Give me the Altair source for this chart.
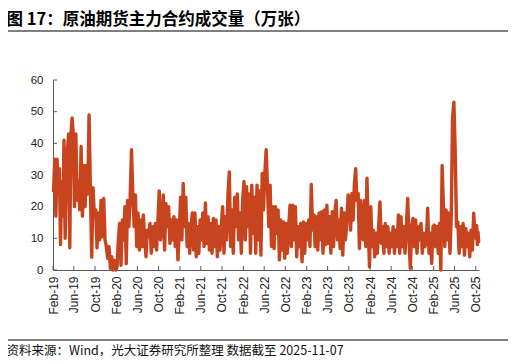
import altair as alt
import pandas as pd

# ---------------- data (万张) ----------------
segment_starts = [
    "2019-02-01", "2019-06-01", "2019-10-01", "2020-02-01", "2020-06-01",
    "2020-10-01", "2021-02-01", "2021-06-01", "2021-10-01", "2022-02-01",
    "2022-06-01", "2022-10-01", "2023-02-01", "2023-06-01", "2023-10-01",
    "2024-02-01", "2024-06-01", "2024-10-01", "2025-02-01", "2025-06-01",
    "2025-10-01",
]
segment_end = "2025-10-20"

s01 = [25, 35, 17, 35, 26, 32, 8, 28, 17, 41, 10, 29, 38, 43, 7, 43, 48, 43]
s02 = [20, 43, 22, 28, 19, 39, 17, 33, 20, 33, 24, 49, 26, 4, 26, 17]
s03 = [19, 7, 18, 9.5, 22, 10.5, 22.6, 9.5, 7.4, 3.7, 7.4, 0.5, 4.2, 0, 3, 0]
s04 = [1, 9.5, 14.7, 1.5, 15.8, 9.5, 20, 2, 22, 13.7, 23, 38, 24, 13.7, 23.7, 7.4]
s05 = [18, 6.3, 15.8, 7.4, 17.4, 9.5, 4.2, 12.6, 10.5, 14.7, 5.3, 13.7, 7.4, 14.7, 6.3, 15.8]
s06 = [25, 9.5, 13.7, 23.7, 6.3, 21, 13.7, 20, 8.4, 15.8, 9.5, 16.8, 7.4, 15.8, 3.2, 12.6]
s07 = [23, 9.5, 27.3, 13.7, 23, 7.4, 14.7, 5.3, 13.7, 18, 6.3, 18, 4.2, 13.7, 5.3, 15.8]
s08 = [9.5, 18, 7.4, 21.2, 8.4, 16.8, 6.3, 14.7, 5.3, 16.3, 7.4, 15.8, 4.2, 13.7, 6.3, 13.7]
s09 = [20, 5.3, 16.8, 9.5, 24, 31, 7.4, 19, 5.3, 23, 13.7, 24, 9.5, 18, 5.3, 22]
s10 = [28, 9.5, 26.3, 13.7, 24, 5.3, 26.8, 11.6, 23, 5.3, 26.8, 9.5, 25, 4.7, 30.5, 19]
s11 = [30.5, 38, 26.3, 13.7, 26.8, 7.4, 20, 6.8, 20, 11.6, 19, 3.2, 15.8, 6.3, 15.2, 3.7]
s12 = [14.7, 5.3, 13.7, 20.5, 7.4, 20.5, 9.5, 20, 4.2, 13.7, 7.4, 14.7, 2.6, 15.2, 5.3, 14.7]
s13 = [9.5, 15.8, 7.4, 27, 12.6, 17.4, 7.4, 16.8, 6.3, 18, 9.5, 18.4, 5.3, 19, 8, 20.5]
s14 = [8.4, 16.8, 5.3, 18.4, 7.4, 18, 22, 9.5, 15.8, 6.8, 19.5, 4.7, 18, 9.5, 14.7, 23.7]
s15 = [23, 12.6, 24.2, 15.8, 27.3, 32, 22, 24.2, 6.8, 22, 13.7, 9.5, 22, 7.4, 29, 13.7, 1]
s16 = [20, 7.4, 12.6, 4.2, 11.6, 5.3, 13.7, 21.5, 8.4, 13.7, 5.3, 14.7, 7.4, 13.7, 5.3, 11.6]
s17 = [7.4, 13.7, 5.3, 12.6, 7.4, 17.4, 5.3, 16.8, 7.4, 13.7, 5.3, 13.7, 22.6, 9.5, 0.5, 13.7]
s18 = [16.3, 7.4, 15.8, 5.3, 13.7, 9.5, 14.7, 5.3, 11.6, 7.4, 9.5, 19.5, 5.3, 11.6, 2.1, 13.7]
s19 = [14.2, 7.4, 13.7, 5.3, 14.7, 0, 33, 20, 7.4, 19, 9.5, 18, 5.3, 16.8, 48, 53]
s20 = [38, 13.7, 15.2, 5.3, 13.7, 7.4, 14.7, 4.7, 13.1, 7.4, 11.6, 4.2, 12.6, 6.3, 17.9, 11.6]
s21 = [10, 14, 8, 12, 9]
segments = [s01, s02, s03, s04, s05, s06, s07, s08, s09, s10, s11,
            s12, s13, s14, s15, s16, s17, s18, s19, s20, s21]

y_ticks = [0, 10, 20, 30, 40, 50, 60]
x_tick_years = [2019, 2019, 2019, 2020, 2020, 2020, 2021, 2021, 2021, 2022, 2022,
                2022, 2023, 2023, 2023, 2024, 2024, 2024, 2025, 2025, 2025]
x_tick_months = [2, 6, 10] * 7

title_text = "图 17：原油期货主力合约成交量（万张）"
source_text = "资料来源：Wind，光大证券研究所整理  数据截至 2025-11-07"

# ---------------- build table ----------------
bounds = pd.to_datetime(segment_starts + [segment_end])
rows = []
for i, vals in enumerate(segments):
    a, b = bounds[i], bounds[i + 1]
    n = len(vals)
    for k, v in enumerate(vals):
        d = a + (b - a) * ((k + 0.5) / n)
        rows.append({"date": d.strftime("%Y-%m-%dT%H:%M:%S"), "value": v})
df = pd.DataFrame(rows)

tick_dt = [alt.DateTime(year=y, month=m, date=1) for y, m in zip(x_tick_years, x_tick_months)]
xt = pd.DataFrame({"date": [f"{y}-{m:02d}-01T00:00:00" for y, m in zip(x_tick_years, x_tick_months)]})
yt = pd.DataFrame({"value": y_ticks})

W, H = 426, 190
xscale = alt.Scale(domain=[alt.DateTime(year=2019, month=2, date=1),
                           alt.DateTime(year=2025, month=10, date=20)])
yscale = alt.Scale(domain=[0, 60], nice=False, zero=True)

AXIS_COLOR = "#595959"
LABEL_FONT = "Liberation Sans"
CJK_FONT = "Noto Sans CJK SC"

# the source note is drawn as the x axis title, the heading as the y axis title
x_axis = alt.Axis(values=tick_dt, format="%b-%y", labelAngle=270, ticks=False,
                  grid=False, domainColor=AXIS_COLOR, labelFont=LABEL_FONT,
                  labelFontSize=12, labelColor="#222222", labelPadding=6,
                  title=source_text, titleFont=CJK_FONT, titleFontSize=12.5,
                  titleFontWeight="normal", titleColor="#111111",
                  titleAnchor="start", titleAlign="left", titleBaseline="alphabetic",
                  titleAngle=0, titleX=-47, titleY=274 - H)
y_axis = alt.Axis(values=y_ticks, ticks=False, grid=False,
                  domainColor=AXIS_COLOR, labelFont=LABEL_FONT, labelFontSize=11.5,
                  labelColor="#222222", labelPadding=10,
                  title=title_text, titleFont=CJK_FONT, titleFontSize=16.5,
                  titleFontWeight="bold", titleColor="#000000",
                  titleAngle=0, titleAlign="left", titleBaseline="alphabetic",
                  titleX=-47, titleY=-56)

line = alt.Chart(df).mark_line(
    color="#C8441F", strokeWidth=3.4, strokeJoin="round", strokeCap="round"
).encode(
    x=alt.X("date:T", scale=xscale, axis=x_axis),
    y=alt.Y("value:Q", scale=yscale, axis=y_axis),
)

xticks = alt.Chart(xt).mark_rule(color=AXIS_COLOR, strokeWidth=1).encode(
    x=alt.X("date:T", scale=xscale, axis=x_axis),
    y=alt.value(H), y2=alt.value(H - 4),
)
yticks = alt.Chart(yt).mark_rule(color=AXIS_COLOR, strokeWidth=1).encode(
    y=alt.Y("value:Q", scale=yscale, axis=y_axis),
    x=alt.value(0), x2=alt.value(4),
)

one = pd.DataFrame({"k": [1]})
title_rule = alt.Chart(one).mark_rule(color="#000000", strokeWidth=1.2).encode(
    x=alt.value(-48), x2=alt.value(457), y=alt.value(-49))
source_rule = alt.Chart(one).mark_rule(color="#000000", strokeWidth=1).encode(
    x=alt.value(-48), x2=alt.value(457), y=alt.value(260))

chart = alt.layer(
    line, xticks, yticks, title_rule, source_rule
).properties(
    width=W, height=H,
    autosize=alt.AutoSizeParams(type="none"),
    padding={"left": 45, "top": 72, "right": 29, "bottom": 86},
    background="white",
).configure_view(strokeWidth=0)

chart.save("out.html", embed_options={"renderer": "svg", "actions": False})
